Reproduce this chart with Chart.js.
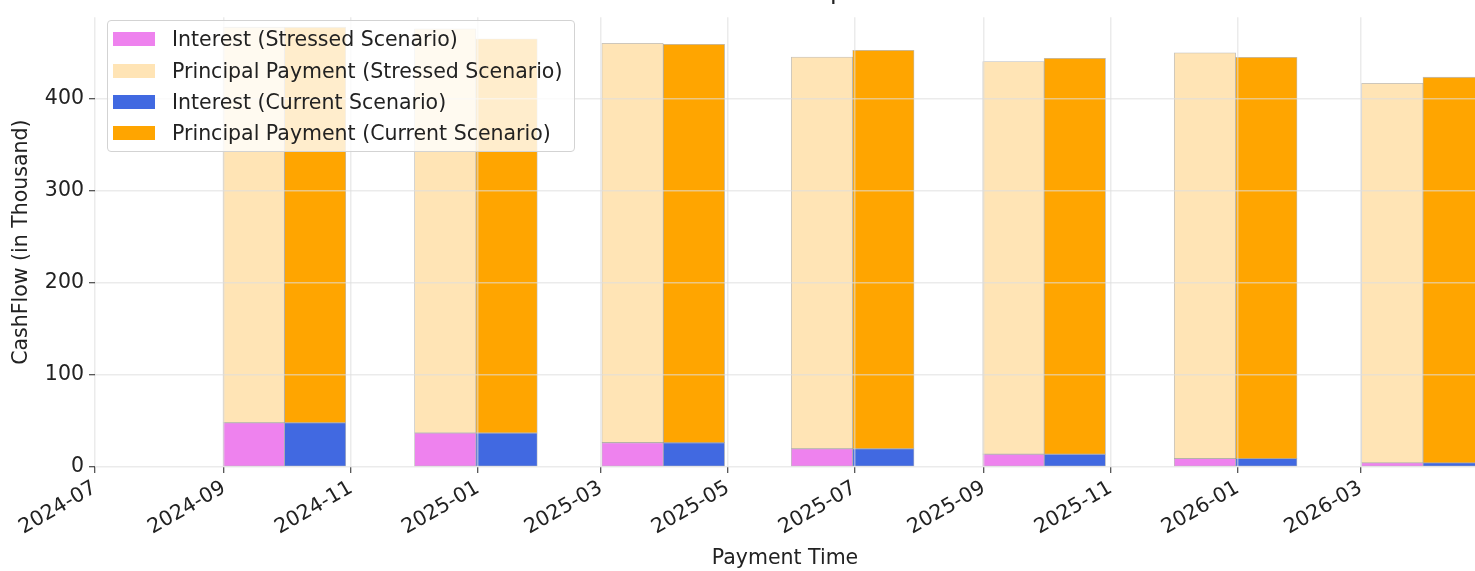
<!DOCTYPE html>
<html>
<head>
<meta charset="utf-8">
<title>CashFlow Comparison</title>
<script src="https://cdn.jsdelivr.net/npm/chart.js@4.4.1/dist/chart.umd.min.js"></script>
<style>
  html, body { margin: 0; padding: 0; background: #fff; overflow: hidden; }
  #wrap { position: relative; width: 1475px; height: 571px; }
  #chartTitle { position: absolute; left: 650px; top: -21px; font: 24.5px 'DejaVu Sans'; line-height: 24px; color: #222; white-space: nowrap; }
  #legend { position: absolute; left: 107px; top: 20px; width: 466px; height: 130px; background: rgba(255,255,255,0.8);
            border: 1px solid #d3d3d3; border-radius: 4px; font: 20.5px 'DejaVu Sans'; color: #222; }
  .row { position: absolute; left: 5px; height: 24px; display: flex; align-items: center; white-space: nowrap; }
  .sw { width: 42px; height: 14px; margin-right: 17px; }
</style>
</head>
<body>
<div id="wrap">
  <canvas id="cashChart"></canvas>
  <div id="chartTitle">CashFlow Comparison</div>
  <div id="legend"></div>
</div>
<script>
"use strict";

// payment dates (quarter ends)
const paymentDates = ["2024-09-30", "2024-12-31", "2025-03-31", "2025-06-30", "2025-09-30", "2025-12-31", "2026-03-31"];

// values in thousand
const interestStressed  = [48.0, 36.9, 26.4, 19.8, 13.9, 9.1, 4.5];
const principalStressed = [429.3, 438.6, 433.4, 425.1, 426.1, 440.3, 411.9];
const interestCurrent   = [48.0, 36.9, 26.4, 19.8, 13.9, 9.1, 4.5];
const principalCurrent  = [429.3, 427.8, 432.4, 432.4, 429.6, 435.5, 418.5];

const monthTicks = ["2024-07", "2024-09", "2024-11", "2025-01", "2025-03", "2025-05", "2025-07", "2025-09", "2025-11", "2026-01", "2026-03"];
const yTickValues = [0, 100, 200, 300, 400];

const toTime = s => Date.parse(s.length === 7 ? s + "-01" : s);
const points = values => values.map((v, i) => ({ x: toTime(paymentDates[i]), y: v }));

const FONT = "'DejaVu Sans', 'Liberation Sans', sans-serif";
const TEXT = "#222";
const FS = 20.5;

const series = [
    { label: "Interest (Stressed Scenario)", data: interestStressed, color: "#ee82ee", stack: "stressed" },
    { label: "Principal Payment (Stressed Scenario)", data: principalStressed, color: "#ffe4b5", stack: "stressed" },
    { label: "Interest (Current Scenario)", data: interestCurrent, color: "#4169e1", stack: "current" },
    { label: "Principal Payment (Current Scenario)", data: principalCurrent, color: "#ffa500", stack: "current" }
];

const datasets = series.map(s => ({
    label: s.label,
    data: points(s.data),
    stack: s.stack,
    backgroundColor: s.color,
    borderColor: "rgba(110,110,110,0.45)",
    borderWidth: 0.8,
    borderSkipped: false,
    categoryPercentage: 1.0,
    barPercentage: 1.0
}));

const gridOpts = { color: "rgba(222,222,222,0.6)", lineWidth: 1.5, z: 1, offset: false, tickColor: TEXT, tickLength: 6, tickWidth: 1 };

const ctx = document.getElementById("cashChart").getContext("2d");
new Chart(ctx, {
    type: "bar",
    data: { datasets },
    options: {
        responsive: true,
        maintainAspectRatio: false,
        animation: false,
        layout: { padding: 0 },
        plugins: { legend: { display: false }, tooltip: { enabled: false } },
        scales: {
            x: {
                type: "linear",
                stacked: true,
                offset: false,
                min: toTime("2024-07-01"),
                max: toTime("2026-04-25"),
                afterBuildTicks: scale => { scale.ticks = monthTicks.map(m => ({ value: toTime(m) })); },
                afterFit: scale => { scale.height = 104; },
                ticks: {
                    autoSkip: false,
                    minRotation: 30,
                    maxRotation: 30,
                    padding: 3,
                    color: TEXT,
                    font: { family: FONT, size: FS },
                    callback: v => new Date(v).toISOString().slice(0, 7)
                },
                grid: gridOpts,
                border: { display: false },
                title: { display: true, text: "Payment Time", color: TEXT, font: { family: FONT, size: FS }, padding: { top: 0, bottom: 0 } }
            },
            y: {
                stacked: true,
                min: 0,
                max: 488,
                afterBuildTicks: scale => { scale.ticks = yTickValues.map(v => ({ value: v })); },
                afterFit: scale => { scale.width = 95; },
                ticks: { color: TEXT, font: { family: FONT, size: FS }, padding: 5 },
                grid: gridOpts,
                border: { display: false },
                title: { display: true, text: "CashFlow (in Thousand)", color: TEXT, font: { family: FONT, size: FS }, padding: { top: 9, bottom: 0 } }
            }
        }
    }
});

// legend box inside the plot
const legend = document.getElementById("legend");
const rowCenters = [18, 50, 81, 112];
legend.innerHTML = series.map((s, i) => `
    <div class="row" style="top:${rowCenters[i] - 12}px">
        <span class="sw" style="background:${s.color}"></span>${s.label}
    </div>`).join("");
</script>
</body>
</html>
